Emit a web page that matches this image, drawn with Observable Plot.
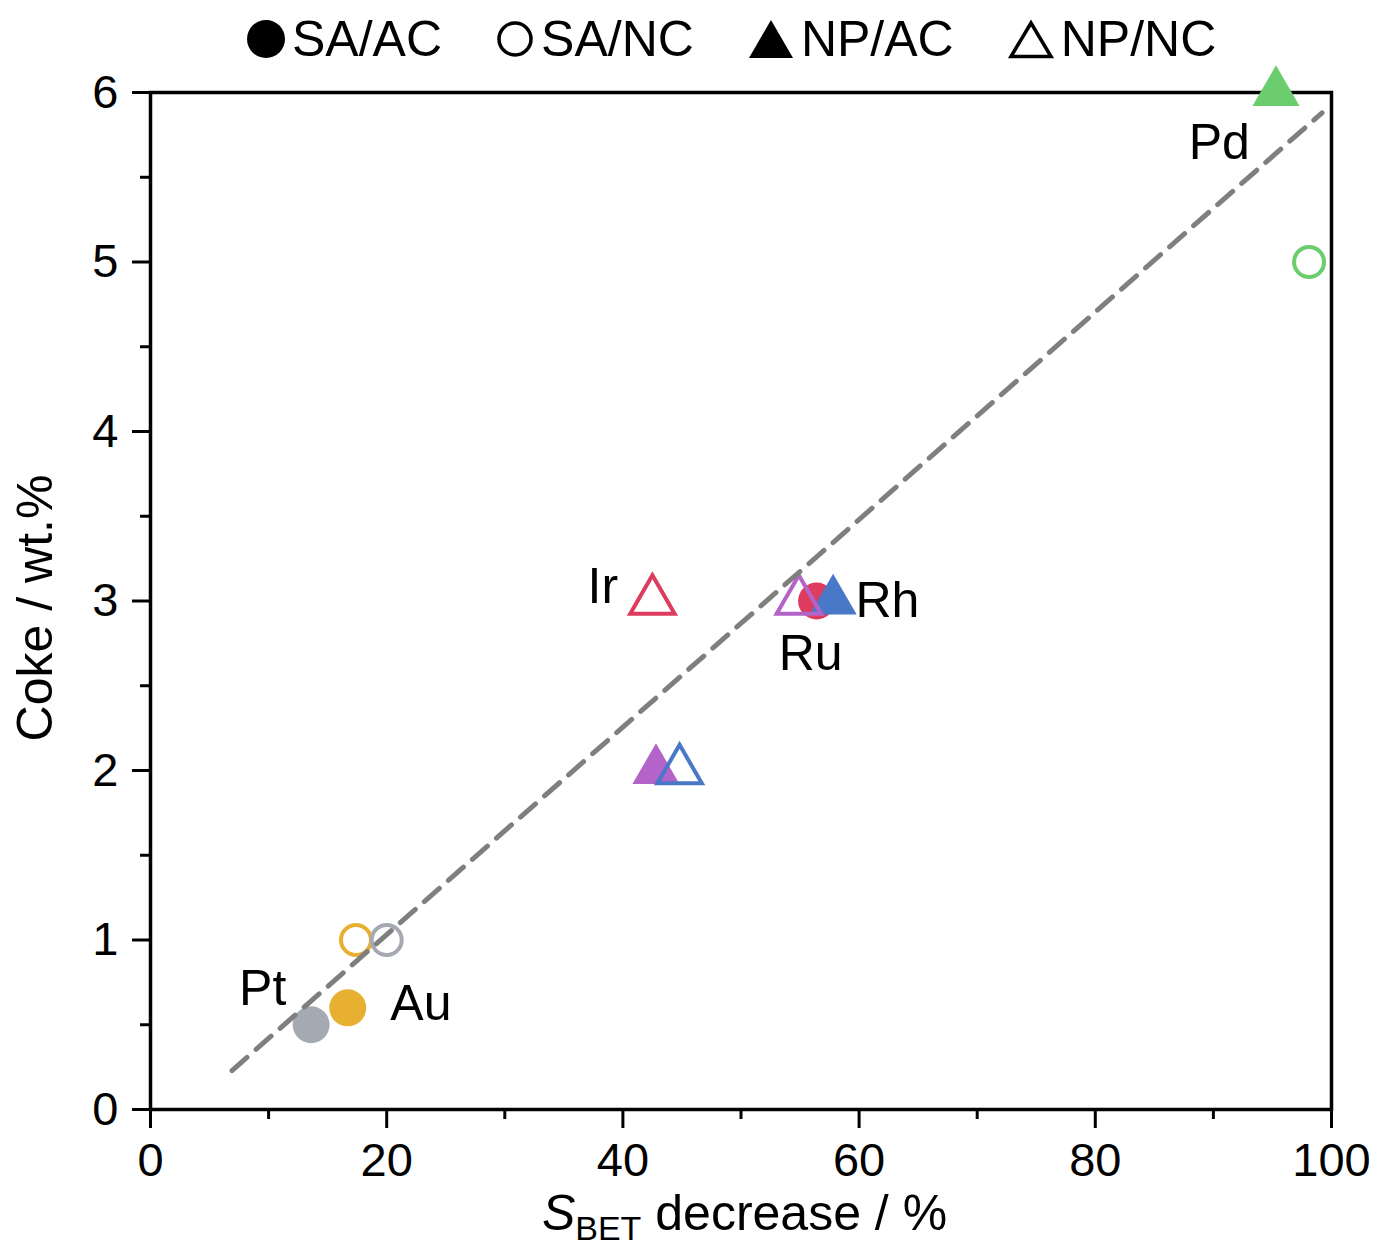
<!DOCTYPE html>
<html><head><meta charset="utf-8">
<script src="https://cdn.jsdelivr.net/npm/d3@7"></script>
<script src="https://cdn.jsdelivr.net/npm/@observablehq/plot@0.6"></script>
<style>
body{margin:0;background:#fff;font-family:"Liberation Sans",Arial,sans-serif;}
#wrap{position:relative;width:1375px;height:1251px;overflow:hidden;}
#legend{position:absolute;top:14px;left:247px;display:flex;align-items:center;gap:54px;font-size:50px;line-height:50px;color:#000;}
.item{display:flex;align-items:center;gap:7px;}
.item svg{display:block;overflow:visible;}
#chart{position:absolute;top:60px;left:0;}
</style></head><body>
<div id="wrap"><div id="legend"></div><div id="chart"></div></div>
<script>
// ---- data (drawing order) ----
const metal   = ["Ir","Au","Pt","Pd","Au","Pt","Pd","Ru","Ir","Ru","Rh","Rh"];
const support = ["SA/AC","SA/AC","SA/AC","SA/NC","SA/NC","SA/NC","NP/AC","NP/AC","NP/NC","NP/NC","NP/NC","NP/AC"];
const sbet    = [56.4, 16.7, 13.6, 98.1, 17.4, 20.0, 95.3, 42.8, 42.5, 54.9, 44.8, 57.8];
const coke    = [3, 0.6, 0.5, 5, 1, 1, 6, 2, 3, 3, 2, 3];

const metalNames  = ["Pd","Ir","Ru","Rh","Au","Pt"];
const metalColors = ["#6bcd6e","#de3c5e","#b464c8","#4a78c8","#e8b030","#a5aab2"];

const labelText = ["Pd","Ir","Rh","Ru","Pt","Au"];
const labelX    = [90.5, 38.3, 62.4, 55.9, 9.5, 22.9];
const labelY    = [5.70, 3.08, 3.00, 2.69, 0.71, 0.62];

const fitX = [6.9, 99.2];
const fitY = [0.23, 5.88];

const xTicks = [0, 20, 40, 60, 80, 100];
const xMinor = [10, 30, 50, 70, 90];
const yTicks = [0, 1, 2, 3, 4, 5, 6];
const yMinor = [0.5, 1.5, 2.5, 3.5, 4.5, 5.5];

const legendNames = ["SA/AC","SA/NC","NP/AC","NP/NC"];

// ---- build ----
const colorOf = m => metalColors[metalNames.indexOf(m)];
const pts = metal.map((m, i) => {
  const filled = support[i].endsWith("/AC");
  const tri = support[i].startsWith("NP");
  return {
    x: sbet[i], y: coke[i],
    symbol: tri ? "triangle" : "circle",
    fill: filled ? colorOf(m) : "none",
    stroke: filled ? "none" : colorOf(m),
    r: tri ? (filled ? 17.5 : 16.5) : (filled ? 18.5 : 15)
  };
});
const fit = fitX.map((x, i) => ({x, y: fitY[i]}));
const labels = labelText.map((t, i) => ({t, x: labelX[i], y: labelY[i]}));

const plot = Plot.plot({
  width: 1375, height: 1191,
  marginLeft: 150, marginRight: 44, marginTop: 32, marginBottom: 142,
  style: {fontFamily: "Liberation Sans, Arial, sans-serif", color: "#000", background: "transparent"},
  x: {domain: [0, 100]},
  y: {domain: [0, 6]},
  r: {type: "identity"},
  marks: [
    Plot.axisX({ticks: xTicks, tickFormat: d => String(d), tickSize: 19, tickPadding: 14, fontSize: 47, strokeWidth: 3, stroke: "#000", label: null}),
    Plot.axisX({ticks: xMinor, tickSize: 10, text: null, strokeWidth: 3, stroke: "#000", label: null}),
    Plot.axisY({ticks: yTicks, tickFormat: d => String(d), tickSize: 18, tickPadding: 14, fontSize: 47, strokeWidth: 3, stroke: "#000", label: null}),
    Plot.axisY({ticks: yMinor, tickSize: 10, text: null, strokeWidth: 3, stroke: "#000", label: null}),
    Plot.frame({stroke: "#000", strokeWidth: 3.5}),
    Plot.dot(pts, {x: "x", y: "y", symbol: "symbol", fill: "fill", stroke: "stroke", r: "r", strokeWidth: 4}),
    Plot.line(fit, {x: "x", y: "y", stroke: "#7f7f7f", strokeWidth: 5, strokeDasharray: "20,12"}),
    Plot.text(labels, {x: "x", y: "y", text: "t", fontSize: 50, fill: "#000"}),
    Plot.text(["Coke / wt.%"], {frameAnchor: "left", textAnchor: "middle", rotate: -90, dx: -115, dy: 7, fontSize: 50, fill: "#000"})
  ]
});

// x-axis label with italic S and subscript
const sx = plot.scale("x");
const cx = (sx.range[0] + sx.range[1]) / 2 + 4;
const xl = d3.select(plot).append("text")
  .attr("x", cx).attr("y", 1170)
  .attr("text-anchor", "middle")
  .attr("font-size", 50)
  .attr("fill", "#000")
  .attr("font-family", "Liberation Sans, Arial, sans-serif");
xl.append("tspan").attr("font-style", "italic").text("S");
xl.append("tspan").attr("font-size", 34).attr("dy", 10).text("BET");
xl.append("tspan").attr("dy", -10).text(" decrease / %");

document.getElementById("chart").appendChild(plot);

// legend
const lg = d3.select("#legend");
legendNames.forEach(name => {
  const it = lg.append("div").attr("class", "item");
  const tri = name.startsWith("NP");
  const filled = name.endsWith("/AC");
  const s = it.append("svg").attr("width", tri ? 46 : 38).attr("height", 40);
  if (tri) {
    s.append("polygon").attr("points", filled ? "23,1 45,39 1,39" : "23,4 43,37.5 3,37.5")
      .attr("fill", filled ? "#000" : "none").attr("stroke", filled ? "none" : "#000").attr("stroke-width", 3.5);
  } else {
    s.append("circle").attr("cx", 19).attr("cy", 20).attr("r", filled ? 19 : 16)
      .attr("fill", filled ? "#000" : "none").attr("stroke", filled ? "none" : "#000").attr("stroke-width", 3.5);
  }
  it.append("span").text(name);
});
</script>
</body></html>
